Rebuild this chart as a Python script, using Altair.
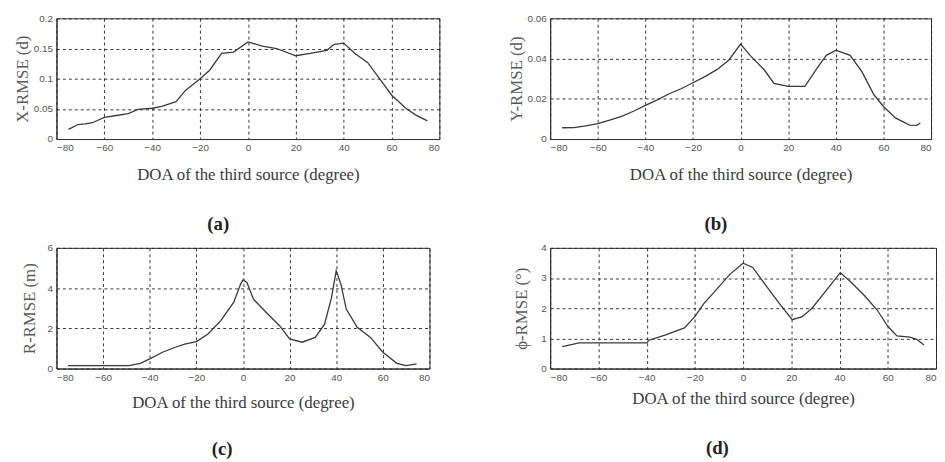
import altair as alt
import pandas as pd

# ---- data ----
xa = [-75, -71, -68, -65, -60, -55, -50, -46, -40, -36, -30, -26, -20, -16, -11, -6, 0, 6, 12, 20, 26, 33, 36, 40, 45, 50, 55, 60, 66, 70, 75]
ya = [0.016, 0.024, 0.025, 0.027, 0.036, 0.039, 0.042, 0.049, 0.051, 0.054, 0.062, 0.081, 0.100, 0.114, 0.142, 0.144, 0.161, 0.154, 0.150, 0.138, 0.142, 0.147, 0.157, 0.159, 0.141, 0.127, 0.100, 0.073, 0.051, 0.040, 0.030]

xb = [-75, -70, -65, -60, -55, -50, -45, -40, -35, -30, -25, -20, -15, -10, -5, 0, 4, 10, 14, 20, 27, 32, 36, 40, 46, 51, 56, 60, 65, 71, 74, 75.5]
yb = [0.0056, 0.0057, 0.0065, 0.0077, 0.0094, 0.0113, 0.0138, 0.0167, 0.0195, 0.0225, 0.0250, 0.0280, 0.0310, 0.0345, 0.0392, 0.0472, 0.0416, 0.0343, 0.0277, 0.0262, 0.0262, 0.0350, 0.0416, 0.0442, 0.0416, 0.0334, 0.0220, 0.0162, 0.0105, 0.0069, 0.0068, 0.0080]

xc = [-75, -49, -44, -40, -34.5, -29, -25, -20, -15, -9.5, -4, -1, 0, 1.7, 4.5, 10, 15.7, 20, 25.4, 31, 35, 38, 40, 42, 44.3, 49, 54.7, 60, 66, 70, 74.5]
yc = [0.15, 0.15, 0.26, 0.48, 0.81, 1.06, 1.22, 1.34, 1.72, 2.38, 3.29, 4.2, 4.41, 4.28, 3.45, 2.79, 2.13, 1.47, 1.31, 1.55, 2.21, 3.54, 4.86, 4.2, 2.96, 2.05, 1.55, 0.81, 0.26, 0.15, 0.23]

xd = [-75, -68, -40, -39, -32.4, -24.3, -20, -16.2, -10.8, -5.4, 0, 4, 9.5, 15, 20.4, 24.5, 28.5, 34, 40.3, 44.8, 50.2, 55.6, 60, 63.8, 69.2, 72, 75]
yd = [0.73, 0.85, 0.85, 0.94, 1.11, 1.35, 1.72, 2.16, 2.64, 3.13, 3.49, 3.35, 2.75, 2.16, 1.62, 1.72, 1.99, 2.54, 3.18, 2.86, 2.43, 1.94, 1.40, 1.08, 1.04, 0.97, 0.78]

x_ticks = [-80, -60, -40, -20, 0, 20, 40, 60, 80]
xtitle = "DOA of the third source (degree)"


def panel(x, y, ytitle, ymax, yticks, w, h, sub, ypad, xpad, suboff, subdx):
    df = pd.DataFrame({"doa": x, "v": y})
    return alt.Chart(df).mark_line(color="#3a3a3a", strokeWidth=1.3).encode(
        x=alt.X("doa:Q", scale=alt.Scale(domain=[-80, 80], nice=False),
                axis=alt.Axis(values=x_ticks, title=xtitle, titlePadding=xpad, titleColor="#3a3a3a")),
        y=alt.Y("v:Q", scale=alt.Scale(domain=[0, ymax], nice=False),
                axis=alt.Axis(values=yticks, format="~g", title=ytitle, titlePadding=ypad, titleColor="#5a5a5a")),
    ).properties(
        width=w, height=h,
        view=alt.ViewBackground(stroke="#333333", strokeWidth=1, fill="white"),
        title=alt.TitleParams(sub, orient="bottom", offset=suboff, dx=subdx, font="Liberation Serif",
                              fontSize=19, fontWeight="bold", color="#222222"),
    )


pa = panel(xa, ya, "X-RMSE (d)", 0.2, [0, 0.05, 0.1, 0.15, 0.2], 387, 122, "(a)", 2, 14, 33, -30)
pb = panel(xb, yb, "Y-RMSE (d)", 0.06, [0, 0.02, 0.04, 0.06], 385, 122, "(b)", 1, 14, 33, -25)
pc = panel(xc, yc, "R-RMSE (m)", 6, [0, 2, 4, 6], 377, 122, "(c)", 9, 12, 30, -21)
pd_ = panel(xd, yd, "ϕ-RMSE (°)", 4, [0, 1, 2, 3, 4], 390, 122, "(d)", 10, 8, 33, -26)

row1 = alt.hconcat(pa, pb, spacing=68)
row2 = alt.hconcat(pc, pd_, spacing=82)

chart = alt.concat(row1, row2, columns=1, align="none", spacing=7).properties(
    padding={"left": 5, "top": 2, "right": 0, "bottom": 0},
    background="white",
).configure_view(
    stroke="#333333", strokeWidth=1
).configure_axis(
    grid=True, gridColor="#222222", gridDash=[3, 3], gridWidth=1, gridOpacity=0.9,
    domain=True, domainColor="#333333", ticks=False, labelPadding=4,
    labelFont="Liberation Sans", labelFontSize=10, labelColor="#555555",
    titleFont="Liberation Serif", titleFontSize=17, titleFontWeight="normal",
)

chart.save("out.html", embed_options={"renderer": "svg", "actions": False})
